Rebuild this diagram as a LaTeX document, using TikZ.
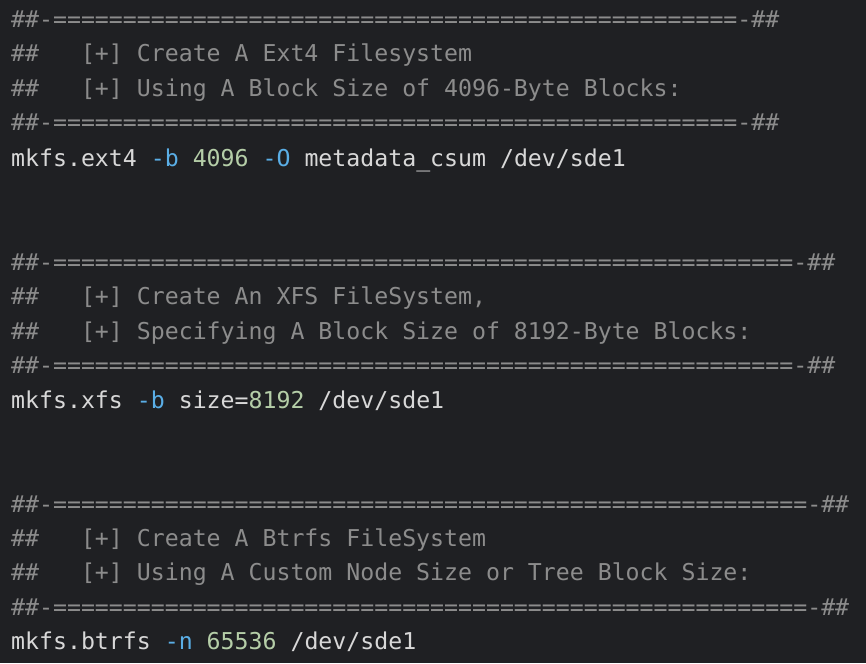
\documentclass[tikz,border=0pt]{standalone}
\usepackage{fontspec}
\setmonofont{DejaVu Sans Mono}
\definecolor{bgc}{HTML}{1F2023}
\definecolor{cmt}{HTML}{8C8C8C}
\definecolor{txt}{HTML}{D8D8D8}
\definecolor{flg}{HTML}{5AAEE6}
\definecolor{num}{HTML}{B5CEA8}
\newcommand\eqs[1]{\foreach \i in {1,...,#1}{=}}
\newcommand\fl[1]{\textcolor{flg}{#1}}
\newcommand\nm[1]{\textcolor{num}{#1}}
\tikzset{
  codeline/.style={anchor=base west, inner sep=0pt, font=\ttfamily\fontsize{23.2}{23.2}\selectfont, text=txt},
  cmtline/.style={codeline, text=cmt}
}
\begin{document}
\begin{tikzpicture}[x=1pt,y=-1pt]
\fill[bgc] (0,0) rectangle (866,663);
\useasboundingbox (0,0) rectangle (866,663);

% ext4
\node[cmtline] (e1) at (11,28) {\#\#-\eqs{49}-\#\#};
\node[cmtline] (e2) at (11,62) {\#\#\ \ \ [+] Create A Ext4 Filesystem};
\node[cmtline] (e3) at (11,97) {\#\#\ \ \ [+] Using A Block Size of 4096-Byte Blocks:};
\node[cmtline] (e4) at (11,131) {\#\#-\eqs{49}-\#\#};
\node[codeline] (e5) at (11,166) {mkfs.ext4 \fl{-b} \nm{4096} \fl{-O} metadata\_csum /dev/sde1};

% xfs
\node[cmtline] (x1) at (11,270) {\#\#-\eqs{53}-\#\#};
\node[cmtline] (x2) at (11,304) {\#\#\ \ \ [+] Create An XFS FileSystem,};
\node[cmtline] (x3) at (11,339) {\#\#\ \ \ [+] Specifying A Block Size of 8192-Byte Blocks:};
\node[cmtline] (x4) at (11,373) {\#\#-\eqs{53}-\#\#};
\node[codeline] (x5) at (11,408) {mkfs.xfs \fl{-b} size=\nm{8192} /dev/sde1};

% btrfs
\node[cmtline] (b1) at (11,512) {\#\#-\eqs{54}-\#\#};
\node[cmtline] (b2) at (11,546) {\#\#\ \ \ [+] Create A Btrfs FileSystem};
\node[cmtline] (b3) at (11,580) {\#\#\ \ \ [+] Using A Custom Node Size or Tree Block Size:};
\node[cmtline] (b4) at (11,615) {\#\#-\eqs{54}-\#\#};
\node[codeline] (b5) at (11,649) {mkfs.btrfs \fl{-n} \nm{65536} /dev/sde1};
\end{tikzpicture}
\end{document}
